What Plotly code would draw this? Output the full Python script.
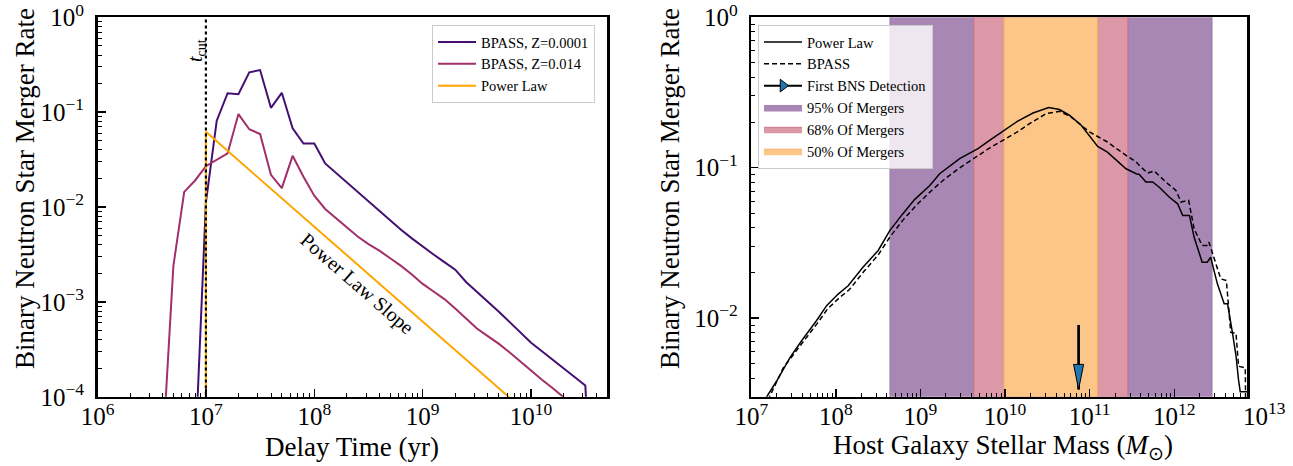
import numpy as np
import plotly.graph_objects as go

FONT = "Liberation Serif"

# ---------------- Left panel: delay-time distributions ----------------
# log10(delay time / yr) and log10(merger rate)
z0001_log_t = [6.9, 7.0, 7.1, 7.2, 7.3, 7.4, 7.5, 7.6, 7.7, 7.8, 7.9, 8.0, 8.1, 8.2, 8.3,
               8.4, 8.5, 8.6, 8.7, 8.8, 8.9, 9.0, 9.1, 9.2, 9.3, 9.4, 9.5, 9.6, 9.7, 9.8,
               9.9, 10.0, 10.1, 10.2, 10.3, 10.4, 10.5, 10.6]
z0001_log_rate = [-4.65, -1.95, -1.09, -0.80, -0.81, -0.58, -0.556, -0.954, -0.796, -1.17,
                  -1.33, -1.33, -1.54, -1.64, -1.75, -1.85, -1.95, -2.05, -2.14, -2.24,
                  -2.33, -2.42, -2.50, -2.58, -2.66, -2.79, -2.89, -3.00, -3.10, -3.21,
                  -3.32, -3.43, -3.52, -3.61, -3.70, -3.79, -3.88, -6.0]

z014_log_t = [6.6, 6.7, 6.8, 6.9, 7.0, 7.1, 7.2, 7.3, 7.4, 7.5, 7.6, 7.7, 7.8, 7.9, 8.0,
              8.1, 8.2, 8.3, 8.4, 8.5, 8.6, 8.7, 8.8, 8.9, 9.0, 9.1, 9.2, 9.3, 9.4, 9.5,
              9.6, 9.7, 9.8, 9.9, 10.0, 10.1, 10.2, 10.3, 10.4, 10.5]
z014_log_rate = [-4.6, -2.62, -1.84, -1.72, -1.57, -1.50, -1.435, -1.02, -1.18, -1.23,
                 -1.66, -1.80, -1.46, -1.68, -1.88, -2.02, -2.12, -2.22, -2.31, -2.39,
                 -2.46, -2.54, -2.62, -2.71, -2.81, -2.89, -2.97, -3.07, -3.18, -3.28,
                 -3.36, -3.44, -3.53, -3.63, -3.72, -3.82, -3.91, -4.0, -4.1, -4.2]

powerlaw_t = [1e7, 1e7, 1e11]
powerlaw_rate = [1e-6, 0.062, 6.2e-6]
t_cut = 1e7

left_xticks = [1e6, 1e7, 1e8, 1e9, 1e10]
left_xticktext = ["10<sup>6</sup>", "10<sup>7</sup>", "10<sup>8</sup>", "10<sup>9</sup>", "10<sup>10</sup>"]
left_yticks = [1e-4, 1e-3, 1e-2, 1e-1, 1e0]
left_yticktext = ["10<sup>\u22124</sup>", "10<sup>\u22123</sup>", "10<sup>\u22122</sup>",
                  "10<sup>\u22121</sup>", "10<sup>0</sup>"]

# ---------------- Right panel: host galaxy mass distributions ----------------
pl_log_mass = [7.15, 7.174, 7.30, 7.457, 7.595, 7.77, 7.89, 8.027, 8.145, 8.32, 8.5, 8.637,
               8.79, 8.93, 9.11, 9.227, 9.463, 9.68, 9.817, 9.994, 10.15, 10.33, 10.516,
               10.643, 10.76, 10.9, 10.997, 11.095, 11.21, 11.35, 11.43, 11.55, 11.587,
               11.665, 11.744, 11.82, 11.94, 12.04, 12.10, 12.18, 12.235, 12.33, 12.39,
               12.43, 12.51, 12.59, 12.63, 12.69, 12.73, 12.76, 12.78, 12.9]
pl_log_rate = [-2.60, -2.53, -2.418, -2.262, -2.15, -2.017, -1.917, -1.84, -1.785, -1.662,
               -1.55, -1.418, -1.307, -1.212, -1.118, -1.04, -0.94, -0.873, -0.818, -0.747,
               -0.69, -0.636, -0.60, -0.613, -0.651, -0.718, -0.785, -0.858, -0.896, -0.963,
               -1.007, -1.04, -1.045, -1.095, -1.095, -1.128, -1.195, -1.24, -1.318, -1.318,
               -1.462, -1.628, -1.628, -1.595, -1.772, -1.905, -1.905, -2.105, -2.25, -2.41,
               -2.49, -2.49]

bp_log_mass = [7.19, 7.21, 7.378, 7.6, 7.78, 7.9, 8.04, 8.16, 8.33, 8.5, 8.637, 8.79, 8.95,
               9.11, 9.265, 9.44, 9.62, 9.8, 9.974, 10.15, 10.29, 10.486, 10.643, 10.78,
               10.997, 11.21, 11.43, 11.55, 11.587, 11.685, 11.764, 11.90, 12.02, 12.08,
               12.17, 12.235, 12.33, 12.39, 12.41, 12.55, 12.616, 12.668, 12.73, 12.76,
               12.84, 12.845]
bp_log_rate = [-2.60, -2.53, -2.33, -2.17, -2.035, -1.94, -1.865, -1.81, -1.69, -1.58,
               -1.462, -1.35, -1.25, -1.162, -1.085, -1.01, -0.94, -0.875, -0.818, -0.76,
               -0.707, -0.64, -0.625, -0.662, -0.762, -0.829, -0.918, -0.962, -0.985,
               -1.036, -1.022, -1.095, -1.151, -1.228, -1.217, -1.406, -1.517, -1.517,
               -1.495, -1.739, -1.75, -2.095, -2.10, -2.32, -2.33, -2.7]

band_names = ["95% Of Mergers", "68% Of Mergers", "50% Of Mergers"]
band_lo = [4.35e8, 4.26e9, 9.7e9]
band_hi = [2.8e12, 2.83e11, 1.24e11]
band_colors = ["#a987b5", "#dc98a7", "#fbc687"]
band_edges = ["#9a74aa", "#c8677e", "#f3a85a"]

first_bns_mass = 7.4e10
arrow_top = 0.009
arrow_tip = 0.00336

right_xticks = [1e7, 1e8, 1e9, 1e10, 1e11, 1e12, 1e13]
right_xticktext = ["10<sup>7</sup>", "10<sup>8</sup>", "10<sup>9</sup>", "10<sup>10</sup>",
                   "10<sup>11</sup>", "10<sup>12</sup>", "10<sup>13</sup>"]
right_yticks = [1e-2, 1e-1, 1e0]
right_yticktext = ["10<sup>\u22122</sup>", "10<sup>\u22121</sup>", "10<sup>0</sup>"]

# colours
C_PURPLE = "#440f71"
C_CRIMSON = "#a32f69"
C_ORANGE = "#ffa500"

W, H = 1293, 466
TICK_SIZE = 25


def fx(px):
    return px / W


def fy(py):
    return 1 - py / H


left_dom = [fx(97.5), fx(607)]
right_dom = [fx(751.3), fx(1247)]
y_dom = [fy(396.8), fy(17.3)]


def pw(a):
    return [10.0 ** v for v in a]


def minor_vals(lo, hi):
    return [m * 10.0 ** k for k in range(lo, hi) for m in range(2, 10)]


fig = go.Figure()

# ---- left traces ----
fig.add_trace(go.Scatter(x=pw(z0001_log_t), y=pw(z0001_log_rate), mode="lines",
                         line=dict(color=C_PURPLE, width=2), name="BPASS, Z=0.0001",
                         xaxis="x", yaxis="y", legend="legend"))
fig.add_trace(go.Scatter(x=pw(z014_log_t), y=pw(z014_log_rate), mode="lines",
                         line=dict(color=C_CRIMSON, width=2), name="BPASS, Z=0.014",
                         xaxis="x", yaxis="y", legend="legend"))
fig.add_trace(go.Scatter(x=powerlaw_t, y=powerlaw_rate, mode="lines",
                         line=dict(color=C_ORANGE, width=2), name="Power Law",
                         xaxis="x", yaxis="y", legend="legend"))
fig.add_trace(go.Scatter(x=[t_cut, t_cut], y=[1e-6, 10], mode="lines",
                         line=dict(color="black", width=2.2, dash="dot"), showlegend=False,
                         xaxis="x", yaxis="y"))

# ---- right traces ----
for i, (nm, lo, hi, c, ec) in enumerate(zip(band_names, band_lo, band_hi, band_colors, band_edges)):
    fig.add_trace(go.Scatter(x=[lo, hi, hi, lo, lo], y=[1e-3, 1e-3, 2, 2, 1e-3], mode="lines",
                             fill="toself", fillcolor=c, line=dict(color=ec, width=0.8),
                             name=nm, xaxis="x2", yaxis="y2", legend="legend2",
                             legendrank=4 + i))

fig.add_trace(go.Scatter(x=pw(pl_log_mass), y=pw(pl_log_rate), mode="lines",
                         line=dict(color="black", width=1.5), name="Power Law",
                         xaxis="x2", yaxis="y2", legend="legend2", legendrank=1))
fig.add_trace(go.Scatter(x=pw(bp_log_mass), y=pw(bp_log_rate), mode="lines",
                         line=dict(color="black", width=1.5, dash="5px,3px"), name="BPASS",
                         xaxis="x2", yaxis="y2", legend="legend2", legendrank=2))
fig.add_trace(go.Scatter(x=[first_bns_mass, first_bns_mass], y=[arrow_top, arrow_tip],
                         mode="lines", line=dict(color="black", width=2.7), showlegend=False,
                         xaxis="x2", yaxis="y2"))
fig.add_trace(go.Scatter(x=[None], y=[None], mode="lines+markers",
                         line=dict(color="black", width=2),
                         marker=dict(symbol="triangle-right", size=11, color="#1f77b4",
                                     line=dict(color="black", width=1)),
                         name="First BNS Detection", xaxis="x2", yaxis="y2",
                         legend="legend2", legendrank=3))

fig.add_shape(type="path", xref="x2", yref="y2", xsizemode="pixel", ysizemode="pixel",
              xanchor=first_bns_mass, yanchor=arrow_tip, path="M0,0 L-5,25 L5,25 Z",
              fillcolor="#1f77b4", line=dict(color="black", width=1), layer="above")

axis_common = dict(type="log", showline=True, linecolor="black", linewidth=2.5, mirror=True,
                   ticks="inside", ticklen=8, tickwidth=1.5, tickcolor="black",
                   showgrid=False, zeroline=False, tickmode="array", automargin=False,
                   ticklabeloverflow="allow",
                   tickfont=dict(family=FONT, size=TICK_SIZE, color="black"))


def minor(lo, hi):
    return dict(tickmode="array", tickvals=minor_vals(lo, hi), ticks="inside", ticklen=4,
                tickwidth=1, tickcolor="black", showgrid=False)


legend_common = dict(xanchor="left", yanchor="top", bgcolor="rgba(255,255,255,0.8)",
                     bordercolor="#cccccc", borderwidth=1, itemwidth=38,
                     font=dict(family=FONT, size=14.5, color="black"),
                     traceorder="normal")

fig.update_layout(
    template="none",
    width=W, height=H, margin=dict(l=0, r=0, t=0, b=0, autoexpand=False),
    paper_bgcolor="white", plot_bgcolor="white",
    font=dict(family=FONT, color="black"),
    hovermode=False,
    xaxis=dict(domain=left_dom, range=[6, 10.7], anchor="y", tickvals=left_xticks,
               ticktext=left_xticktext, minor=minor(6, 11), ticklabelstandoff=-4, **axis_common),
    yaxis=dict(domain=y_dom, range=[-4, 0], anchor="x", tickvals=left_yticks,
               ticktext=left_yticktext, minor=minor(-4, 0), ticklabelstandoff=6, **axis_common),
    xaxis2=dict(domain=right_dom, range=[7, 12.86], anchor="y2", tickvals=right_xticks,
                ticktext=right_xticktext, minor=minor(7, 13), ticklabelstandoff=-4, **axis_common),
    yaxis2=dict(domain=y_dom, range=[np.log10(0.003), 0], anchor="x2",
                tickvals=right_yticks, ticktext=right_yticktext, minor=minor(-3, 0),
                ticklabelstandoff=6, **axis_common),
    legend=dict(x=fx(432), y=fy(25), **legend_common),
    legend2=dict(x=fx(758), y=fy(25), **legend_common),
)

# axis titles and in-plot labels
title_font = dict(family=FONT, size=27, color="black")
ann_common = dict(xref="paper", yref="paper", showarrow=False, xanchor="center", yanchor="middle")
fig.add_annotation(text="Binary Neutron Star Merger Rate", x=fx(25), y=fy(189),
                   textangle=-90, font=title_font, **ann_common)
fig.add_annotation(text="Binary Neutron Star Merger Rate", x=fx(670), y=fy(189),
                   textangle=-90, font=title_font, **ann_common)
fig.add_annotation(text="Delay Time (yr)", x=fx(352), y=fy(447), font=title_font,
                   **ann_common)
fig.add_annotation(text="Host Galaxy Stellar Mass (<i>M</i><sub>\u2299</sub>)",
                   x=fx(1003), y=fy(447), font=title_font, **ann_common)
# the 10^13 label that sits just past the right edge of the mass axis
fig.add_annotation(text=right_xticktext[-1], x=fx(1264), y=fy(414),
                   font=dict(family=FONT, size=TICK_SIZE, color="black"), **ann_common)
fig.add_annotation(text="<i>t</i><sub>cut</sub>", xref="x", yref="y", x=6.909, y=-0.356,
                   textangle=-90, showarrow=False, xanchor="center", yanchor="middle",
                   font=dict(family=FONT, size=20, color="black"))
fig.add_annotation(text="Power Law Slope", xref="x", yref="y", x=8.39, y=-2.807,
                   textangle=41, showarrow=False, xanchor="center", yanchor="middle",
                   font=dict(family=FONT, size=20, color="black"))

# draw the figure flush with the window's top-left corner (no default page margin)
fig.write_html("out.html", config={"displayModeBar": False, "staticPlot": True},
               post_script="document.body.style.margin='0px';")
